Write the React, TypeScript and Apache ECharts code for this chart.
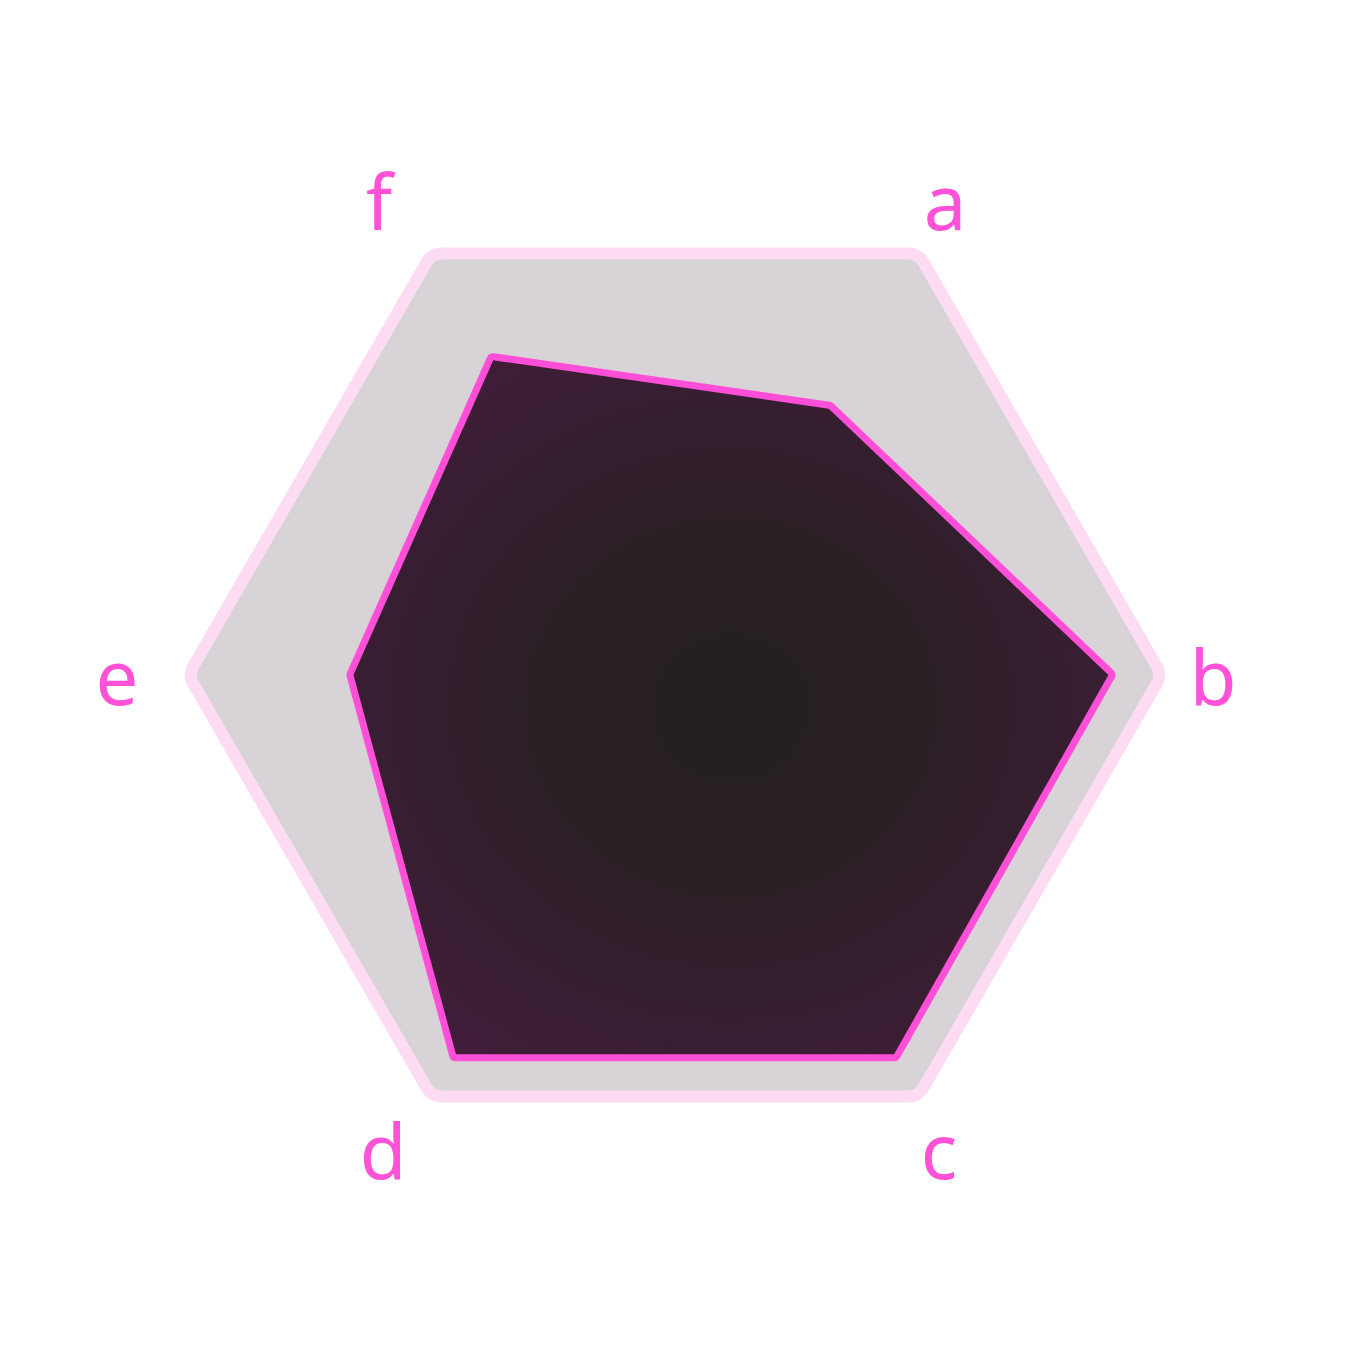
import React, { useEffect, useRef } from "react";
import * as echarts from "echarts";

// Axis labels in clockwise visual order starting from upper-right
const categories = ["a", "b", "c", "d", "e", "f"];
const values = [66, 93, 94, 94, 69, 78];
const maxValue = 100;

// right padding (px) of each axis name, nudging the centred label to the left
const namePadRight: Record<string, number> = { a: 8, b: 20, c: 20, d: 36, e: 20, f: 44 };

export default function App() {
  const ref = useRef<HTMLDivElement>(null);
  useEffect(() => {
    document.body.style.margin = "0";
    if (!ref.current) return;
    const chart = echarts.init(ref.current, undefined, { renderer: "svg" });
    // ECharts radar lays indicators out counter-clockwise; reorder so the picture reads clockwise
    const order = [0, 5, 4, 3, 2, 1];
    const indicator = order.map((i) => ({ name: categories[i], max: maxValue }));
    const dataVals = order.map((i) => values[i]);
    const frameVals = order.map(() => maxValue);
    const rich: Record<string, any> = {};
    categories.forEach((c) => {
      rich[c] = {
        color: "#ff52d6",
        fontSize: 76,
        fontFamily: "Noto Sans",
        padding: [0, namePadRight[c], 0, 0],
      };
    });
    chart.setOption({
      animation: false,
      backgroundColor: "#ffffff",
      radar: {
        center: [675, 675],
        radius: 466,
        startAngle: 60,
        shape: "polygon",
        splitNumber: 1,
        indicator,
        nameGap: 82,
        axisName: {
          color: "#ff52d6",
          fontSize: 76,
          fontFamily: "Noto Sans",
          align: "center",
          verticalAlign: "middle",
          formatter: (name: string) => `{${name}|${name}}`,
          rich,
        },
        axisLine: { show: false },
        splitLine: { show: false },
        splitArea: { show: false },
        axisTick: { show: false },
        axisLabel: { show: false },
      },
      series: [
        {
          type: "radar",
          symbol: "none",
          silent: true,
          data: [
            {
              value: frameVals,
              lineStyle: { color: "#fddcf3", width: 48, join: "round", cap: "round" },
              areaStyle: { color: "#fddcf3", opacity: 1 },
            },
            {
              value: frameVals,
              lineStyle: { color: "#d8d3d6", width: 24, join: "round", cap: "round" },
              areaStyle: { color: "#d8d3d6", opacity: 1 },
            },
            {
              value: dataVals,
              lineStyle: { color: "#ff4fd8", width: 14, join: "round", cap: "round" },
              areaStyle: {
                opacity: 1,
                color: new echarts.graphic.RadialGradient(0.5, 0.5, 0.6, [
                  { offset: 0, color: "#231f20" },
                  { offset: 0.45, color: "#2b1f26" },
                  { offset: 1, color: "#401d39" },
                ]),
              },
            },
          ],
        },
      ],
    });
    return () => chart.dispose();
  }, []);
  return <div ref={ref} style={{ width: 1351, height: 1351 }} />;
}
